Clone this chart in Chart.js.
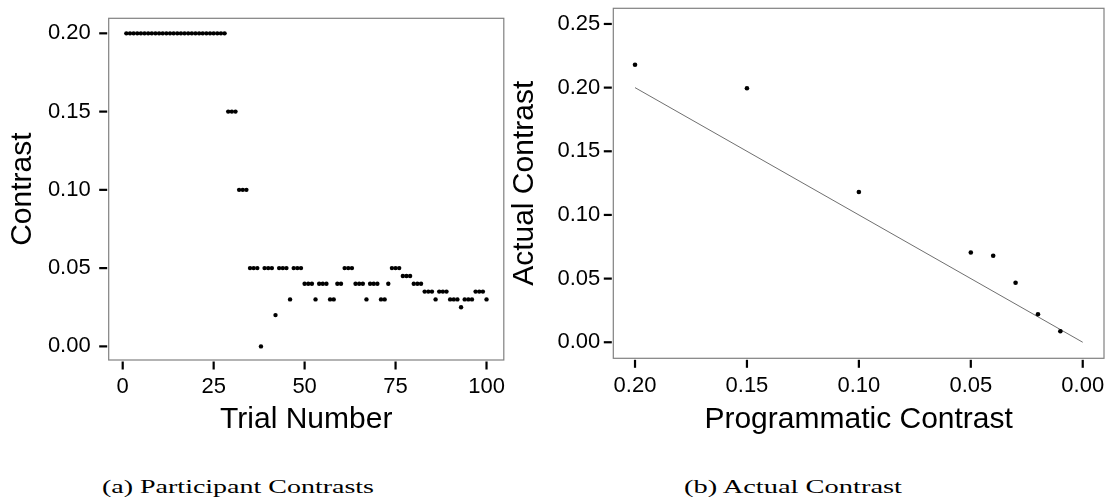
<!DOCTYPE html>
<html><head><meta charset="utf-8">
<script src="https://cdn.jsdelivr.net/npm/chart.js@4"></script>
<style>
html,body{margin:0;padding:0;background:#fff;width:1112px;height:502px;overflow:hidden}
#ca{position:absolute;left:0;top:0}
#cb{position:absolute;left:500px;top:0}
.cap{position:absolute;font-family:"Liberation Serif","Times New Roman",serif;font-size:18px;line-height:18px;white-space:nowrap;transform-origin:0 0;color:#000}
</style></head><body>
<canvas id="ca" width="506" height="450"></canvas>
<canvas id="cb" width="612" height="450"></canvas>
<span class="cap" id="capA" style="left:101.7px;top:477.9px">(a) Participant Contrasts</span>
<span class="cap" id="capB" style="left:684px;top:477.9px">(b) Actual Contrast</span>
<script>
// ---- Data: panel (a) ----
const trials = [1,2,3,4,5,6,7,8,9,10,11,12,13,14,15,16,17,18,19,20,21,22,23,24,25,26,27,28,29,30,31,32,33,34,35,36,37,38,39,40,41,42,43,44,45,46,47,48,49,50,51,52,53,54,55,56,57,58,59,60,61,62,63,64,65,66,67,68,69,70,71,72,73,74,75,76,77,78,79,80,81,82,83,84,85,86,87,88,89,90,91,92,93,94,95,96,97,98,99,100];
const contrast = [
 0.20,0.20,0.20,0.20,0.20,0.20,0.20,0.20,0.20,0.20,
 0.20,0.20,0.20,0.20,0.20,0.20,0.20,0.20,0.20,0.20,
 0.20,0.20,0.20,0.20,0.20,0.20,0.20,0.20,0.15,0.15,
 0.15,0.10,0.10,0.10,0.05,0.05,0.05,0.00,0.05,0.05,
 0.05,0.02,0.05,0.05,0.05,0.03,0.05,0.05,0.05,0.04,
 0.04,0.04,0.03,0.04,0.04,0.04,0.03,0.03,0.04,0.04,
 0.05,0.05,0.05,0.04,0.04,0.04,0.03,0.04,0.04,0.04,
 0.03,0.03,0.04,0.05,0.05,0.05,0.045,0.045,0.045,0.04,
 0.04,0.04,0.035,0.035,0.035,0.03,0.035,0.035,0.035,0.03,
 0.03,0.03,0.025,0.03,0.03,0.03,0.035,0.035,0.035,0.03
];
const xTicksA = [0,25,50,75,100];
const yTicksA = [0.00,0.05,0.10,0.15,0.20];
const xTitleA = 'Trial Number';
const yTitleA = 'Contrast';

// ---- Data: panel (b) ----
const programmatic = [0.20,0.15,0.10,0.05,0.04,0.03,0.02,0.01];
const actual = [0.218,0.1995,0.118,0.0705,0.068,0.0467,0.022,0.0087];
const refLineX = [0.20,0.00];
const refLineY = [0.20,0.00];
const xTicksB = [0.00,0.05,0.10,0.15,0.20];
const yTicksB = [0.00,0.05,0.10,0.15,0.20,0.25];
const xTitleB = 'Programmatic Contrast';
const yTitleB = 'Actual Contrast';

Chart.defaults.font.family = '"Liberation Sans", Arial, Helvetica, sans-serif';
Chart.defaults.color = '#000';

const panelBorder = {
  id:'panelBorder',
  afterDatasetsDraw(chart){
    const {ctx, chartArea:a} = chart;
    ctx.save();
    ctx.strokeStyle = '#808080';
    ctx.lineWidth = 1.2;
    ctx.strokeRect(a.left, a.top, a.right-a.left, a.bottom-a.top);
    ctx.restore();
  }
};

// outward tick marks drawn at the library's own tick pixels
const tickMarks = {
  id:'tickMarks',
  afterDraw(chart){
    const {ctx, chartArea:a} = chart;
    const xs = chart.scales.x, ys = chart.scales.y;
    ctx.save();
    ctx.strokeStyle = '#000';
    ctx.lineWidth = 2.2;
    ctx.lineCap = 'butt';
    xs.ticks.forEach(t=>{
      const p = xs.getPixelForValue(t.value);
      ctx.beginPath(); ctx.moveTo(p, a.bottom+1.5); ctx.lineTo(p, a.bottom+9.5); ctx.stroke();
    });
    ys.ticks.forEach(t=>{
      const p = ys.getPixelForValue(t.value);
      ctx.beginPath(); ctx.moveTo(a.left-1.5, p); ctx.lineTo(a.left-9.5, p); ctx.stroke();
    });
    ctx.restore();
  }
};

function axisGrid(){
  return {drawOnChartArea:false, drawTicks:true, tickLength:9, tickWidth:2, tickColor:'rgba(0,0,0,0)'};
}

function makeChart(id, cfg){
  return new Chart(document.getElementById(id), {
    type:'scatter',
    data:{datasets:cfg.datasets},
    options:{
      responsive:false, animation:false, events:[],
      layout:{padding:cfg.padding},
      plugins:{legend:{display:false}, tooltip:{enabled:false}},
      scales:{
        x:{
          type:'linear', min:cfg.xMin, max:cfg.xMax, reverse:!!cfg.xReverse,
          afterBuildTicks:s=>{ s.ticks = cfg.xTicks.map(v=>({value:v})); },
          afterFit:s=>{ s.height = cfg.xHeight; s.paddingLeft = 0; s.paddingRight = 0; },
          grid:axisGrid(), border:{display:false},
          ticks:{color:'#000', font:{size:22}, padding:5, maxRotation:0, autoSkip:false, callback:cfg.xFmt},
          title:{display:true, text:cfg.xTitle, color:'#000', font:{size:30}, padding:{top:0, bottom:12}}
        },
        y:{
          type:'linear', min:cfg.yMin, max:cfg.yMax,
          afterBuildTicks:s=>{ s.ticks = cfg.yTicks.map(v=>({value:v})); },
          afterFit:s=>{ s.width = cfg.yWidth; s.paddingTop = 0; s.paddingBottom = 0; },
          grid:axisGrid(), border:{display:false},
          ticks:{color:'#000', font:{size:22}, padding:cfg.yPad, autoSkip:false, callback:v=>Number(v).toFixed(2)},
          title:{display:true, text:cfg.yTitle, color:'#000', font:{size:30}, padding:{top:cfg.yTitlePad, bottom:0}}
        }
      }
    },
    plugins:[panelBorder, tickMarks]
  });
}

makeChart('ca', {
  datasets:[{
    data: trials.map((t,i)=>({x:t, y:contrast[i]})),
    pointRadius:2.2, pointHoverRadius:2.2, pointBackgroundColor:'#000', pointBorderWidth:0
  }],
  padding:{top:18.3, right:0.3, left:0, bottom:0},
  xMin:-3.85, xMax:104.75, xTicks:xTicksA, xHeight:90, xFmt:v=>String(v), xTitle:xTitleA,
  yMin:-0.0087, yMax:0.2096, yTicks:yTicksA, yWidth:108.7, yPad:9, yTitle:yTitleA, yTitlePad:5
});

makeChart('cb', {
  datasets:[
    {
      data: programmatic.map((p,i)=>({x:p, y:actual[i]})),
      pointRadius:2.3, pointHoverRadius:2.3, pointBackgroundColor:'#000', pointBorderWidth:0, order:1
    },
    {
      type:'line',
      data: refLineX.map((p,i)=>({x:p, y:refLineY[i]})),
      borderColor:'#4a4a4a', borderWidth:0.8, pointRadius:0, fill:false, showLine:true, order:2
    }
  ],
  padding:{top:8.3, right:8, left:0, bottom:0},
  xMin:-0.0095, xMax:0.2097, xReverse:true, xTicks:xTicksB, xHeight:91.7, xFmt:v=>Number(v).toFixed(2), xTitle:xTitleB,
  yMin:-0.0126, yMax:0.2623, yTicks:yTicksB, yWidth:113.3, yPad:4, yTitle:yTitleB, yTitlePad:6.5
});

function fitCap(id, target){
  const el = document.getElementById(id);
  const w = el.getBoundingClientRect().width;
  if (w > 0) el.style.transform = 'scaleX(' + (target / w) + ')';
}
fitCap('capA', 272);
fitCap('capB', 218);
</script>
</body></html>
